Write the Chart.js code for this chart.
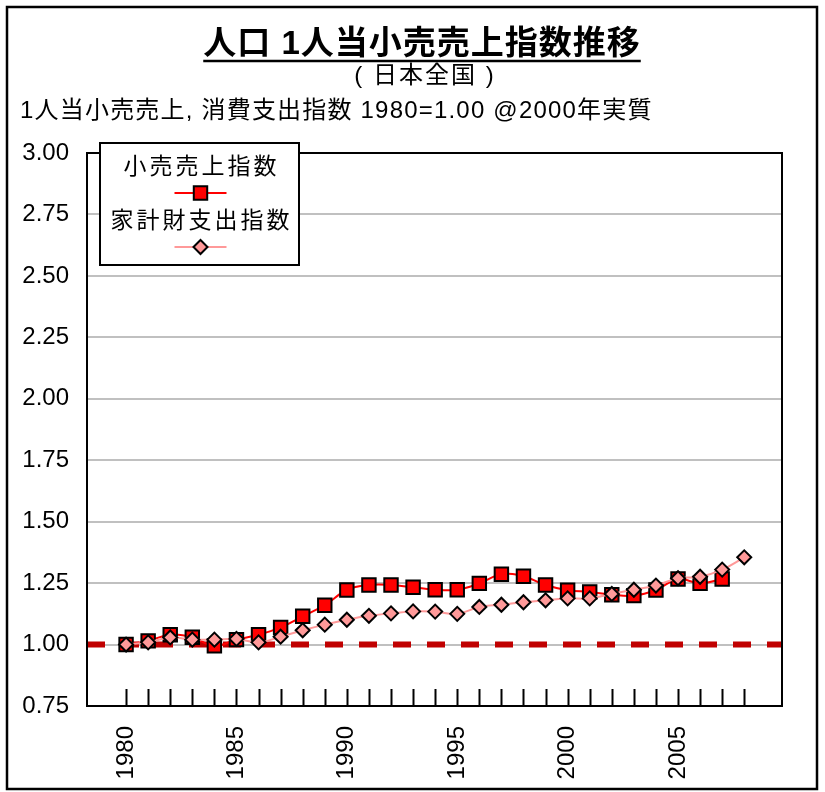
<!DOCTYPE html>
<html>
<head>
<meta charset="utf-8">
<script src="https://cdn.jsdelivr.net/npm/chart.js@4.4.1/dist/chart.umd.min.js"></script>
<style>
  html, body { margin: 0; padding: 0; background: #fff; }
  #wrap { width: 825px; height: 792px; }
</style>
</head>
<body>
<div id="wrap"><canvas id="c" width="825" height="792"></canvas></div>
<script>
// Years on the horizontal axis (one tick mark per year)
const years = [1980, 1981, 1982, 1983, 1984, 1985, 1986, 1987, 1988, 1989,
               1990, 1991, 1992, 1993, 1994, 1995, 1996, 1997, 1998, 1999,
               2000, 2001, 2002, 2003, 2004, 2005, 2006, 2007, 2008];

// Per-capita retail sales index (1980 = 1.00, real 2000 prices)
const retailIndex = [1.00, 1.015, 1.04, 1.03, 0.995, 1.02, 1.04, 1.07, 1.115, 1.16,
                     1.222, 1.242, 1.242, 1.233, 1.223, 1.223, 1.249, 1.286, 1.278, 1.242,
                     1.221, 1.214, 1.203, 1.199, 1.222, 1.267, 1.249, 1.267, null];

// Household goods spending index (1980 = 1.00)
const spendingIndex = [1.00, 1.009, 1.029, 1.02, 1.02, 1.023, 1.009, 1.032, 1.058, 1.081,
                       1.101, 1.117, 1.127, 1.135, 1.134, 1.125, 1.153, 1.162, 1.172, 1.18,
                       1.188, 1.188, 1.206, 1.223, 1.24, 1.27, 1.276, 1.305, 1.355];

const baselineValue = 1.00;
const seriesNames = ['小売売上指数', '家計財支出指数'];
const yearLabels = [1980, 1985, 1990, 1995, 2000, 2005];
const yMin = 0.75, yMax = 3.00, yStep = 0.25;
const xMin = 1978.23, xMax = 2009.71;

const titleText = '人口 1人当小売売上指数推移';
const subtitleText = '( 日本全国 )';
const axisTitleText = '1人当小売売上, 消費支出指数 1980=1.00 @2000年実質';

const FONT = '"Liberation Sans", "Noto Sans CJK JP", sans-serif';

const toPoints = (vals) => years.map((yr, i) => ({ x: yr, y: vals[i] })).filter(p => p.y !== null);

// Titles, plot frame, inner tick marks and the boxed legend
const decorations = {
  id: 'decorations',
  beforeDraw(chart) {
    const ctx = chart.ctx;
    ctx.save();
    ctx.fillStyle = '#fff';
    ctx.fillRect(0, 0, chart.width, chart.height);
    ctx.restore();
  },
  afterDraw(chart) {
    const { ctx, chartArea: a, scales: { x } } = chart;
    ctx.save();

    // outer frame
    ctx.strokeStyle = '#000';
    ctx.lineWidth = 2.5;
    ctx.strokeRect(7, 7, 810, 782);

    // plot frame
    ctx.lineWidth = 2;
    ctx.strokeRect(a.left, a.top, a.right - a.left, a.bottom - a.top);

    // yearly tick marks pointing into the plot
    ctx.beginPath();
    years.forEach(yr => {
      const px = Math.round(x.getPixelForValue(yr)) + 0.5;
      ctx.moveTo(px, a.bottom);
      ctx.lineTo(px, a.bottom - 17);
    });
    ctx.lineWidth = 2;
    ctx.stroke();

    // title
    ctx.fillStyle = '#000';
    ctx.textBaseline = 'middle';
    ctx.textAlign = 'center';
    ctx.font = 'bold 33px ' + FONT;
    ctx.letterSpacing = '1px';
    const tw = ctx.measureText(titleText).width;
    const tcx = 422;
    ctx.fillText(titleText, tcx, 45);
    ctx.beginPath();
    ctx.moveTo(tcx - tw / 2, 61);
    ctx.lineTo(tcx + tw / 2, 61);
    ctx.lineWidth = 2.5;
    ctx.stroke();

    ctx.font = '24px ' + FONT;
    ctx.letterSpacing = '2px';
    ctx.fillText(subtitleText, 425, 76);

    ctx.textAlign = 'left';
    ctx.font = '24px ' + FONT;
    ctx.letterSpacing = '1.2px';
    ctx.fillText(axisTitleText, 20, 111);

    // legend box
    const lx = a.left + 13, ly = a.top - 10, lw = 199, lh = 122;
    ctx.fillStyle = '#fff';
    ctx.fillRect(lx, ly, lw, lh);
    ctx.strokeStyle = '#000';
    ctx.lineWidth = 2;
    ctx.strokeRect(lx, ly, lw, lh);

    const cx = lx + lw / 2;
    const entries = [chart.data.datasets[1], chart.data.datasets[0]];
    entries.forEach((ds, i) => {
      const ty = ly + 25 + i * 54;
      const my = ty + 25;
      ctx.fillStyle = '#000';
      ctx.textAlign = 'center';
      ctx.font = '23px ' + FONT;
      ctx.letterSpacing = '3px';
      ctx.fillText(ds.label, cx + 2, ty);
      ctx.beginPath();
      ctx.moveTo(cx - 25, my);
      ctx.lineTo(cx + 27, my);
      ctx.strokeStyle = ds.borderColor;
      ctx.lineWidth = 2;
      ctx.stroke();
      ctx.fillStyle = ds.pointBackgroundColor;
      ctx.strokeStyle = ds.pointBorderColor;
      ctx.lineWidth = ds.pointBorderWidth;
      Chart.helpers.drawPoint(ctx, {
        pointStyle: ds.pointStyle,
        radius: ds.pointRadius,
        rotation: 0,
        borderWidth: ds.pointBorderWidth
      }, cx + 1, my);
    });
    ctx.restore();
  }
};

new Chart(document.getElementById('c'), {
  type: 'line',
  data: {
    datasets: [
      {
        label: seriesNames[1],
        data: toPoints(spendingIndex),
        borderColor: '#ff9999',
        borderWidth: 2,
        tension: 0.4,
        pointStyle: 'rectRot',
        pointRadius: 7,
        pointBackgroundColor: '#ff9999',
        pointBorderColor: '#000',
        pointBorderWidth: 2,
        order: 0
      },
      {
        label: seriesNames[0],
        data: toPoints(retailIndex),
        borderColor: '#ff0000',
        borderWidth: 2,
        tension: 0.4,
        pointStyle: 'rect',
        pointRadius: 9.5,
        pointBackgroundColor: '#ff0000',
        pointBorderColor: '#000',
        pointBorderWidth: 2,
        order: 1
      },
      {
        label: 'baseline',
        data: [{ x: xMin, y: baselineValue }, { x: xMax, y: baselineValue }],
        borderColor: '#c00000',
        borderWidth: 6,
        borderDash: [18, 16],
        borderCapStyle: 'butt',
        pointRadius: 0,
        tension: 0,
        order: 2
      }
    ]
  },
  options: {
    responsive: false,
    animation: false,
    devicePixelRatio: 1,
    layout: { padding: { top: 153, right: 43, left: 0, bottom: 0 } },
    plugins: {
      legend: { display: false },
      title: { display: false },
      tooltip: { enabled: false }
    },
    scales: {
      x: {
        type: 'linear',
        min: xMin,
        max: xMax,
        afterBuildTicks(scale) {
          scale.ticks = yearLabels.map(v => ({ value: v }));
        },
        afterFit(scale) { scale.height = 86; },
        grid: { display: false, drawTicks: false },
        border: { display: true, color: '#000', width: 2 },
        ticks: {
          autoSkip: false,
          minRotation: 90,
          maxRotation: 90,
          padding: 20,
          color: '#000',
          font: { family: FONT, size: 24 },
          callback: v => String(v)
        }
      },
      y: {
        type: 'linear',
        min: yMin,
        max: yMax,
        afterFit(scale) { scale.width = 87; },
        grid: { color: '#c0c0c0', lineWidth: 2, drawTicks: false },
        border: { display: true, color: '#000', width: 2 },
        ticks: {
          stepSize: yStep,
          padding: 18,
          color: '#000',
          font: { family: FONT, size: 24 },
          callback: v => Number(v).toFixed(2)
        }
      }
    }
  },
  plugins: [decorations]
});
</script>
</body>
</html>
